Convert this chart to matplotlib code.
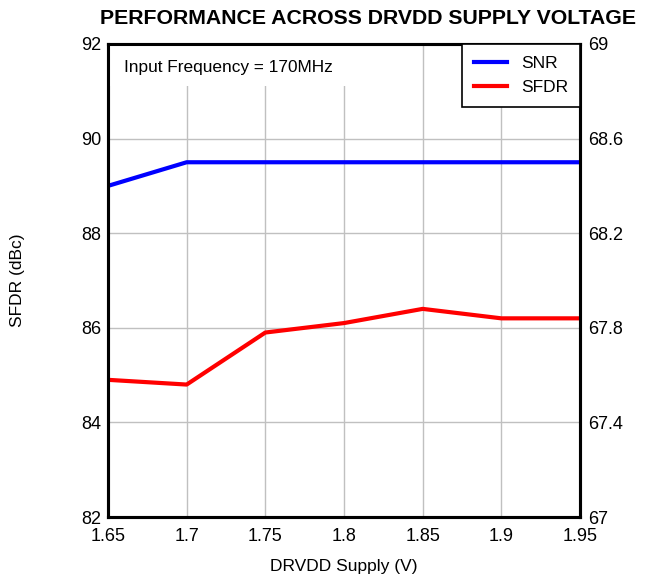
import numpy as np
import matplotlib
matplotlib.use('Agg')
import matplotlib.pyplot as plt
from matplotlib.patches import Rectangle

plt.rcParams['font.family'] = ['Liberation Sans', 'DejaVu Sans']

# DRVDD supply (V)
supply = [1.65, 1.7, 1.75, 1.8, 1.85, 1.9, 1.95]
# SFDR on left axis (dBc)
sfdr = [84.9, 84.8, 85.9, 86.1, 86.4, 86.2, 86.2]
# SNR on right axis
snr = [68.4, 68.5, 68.5, 68.5, 68.5, 68.5, 68.5]

fig = plt.figure(figsize=(6.45, 5.8), dpi=100)
ax = fig.add_axes([108/645, 1-517/580, 472/645, 473/580])
ax2 = ax.twinx()

ax.set_xlim(1.65, 1.95)
ax.set_ylim(82, 92)
ax2.set_ylim(67, 69)
ax.set_xticks(supply)
ax.set_xticklabels(['1.65', '1.7', '1.75', '1.8', '1.85', '1.9', '1.95'])
ax.set_yticks([82, 84, 86, 88, 90, 92])
ax2.set_yticks([67, 67.4, 67.8, 68.2, 68.6, 69])
ax2.set_yticklabels(['67', '67.4', '67.8', '68.2', '68.6', '69'])

ax.grid(True, color='#c0c0c0', linewidth=1)
ax.set_axisbelow(True)
ax.tick_params(axis='y', length=0, labelsize=13, pad=5)
ax.tick_params(axis='x', length=0, labelsize=13, pad=8)
ax2.tick_params(length=0, labelsize=13, pad=6)
for a in (ax, ax2):
    for s in a.spines.values():
        s.set_linewidth(2.2)

l1, = ax.plot(supply, sfdr, color='#ff0000', linewidth=3, label='SFDR')
l2, = ax2.plot(supply, snr, color='#0000ff', linewidth=3, label='SNR')

# white box behind the note hides the gridlines, stays under the spines
ax2.add_patch(Rectangle((0, 0.911), 0.513, 0.089, transform=ax2.transAxes,
                        facecolor='white', edgecolor='none', zorder=1.5))
ax2.text(0.034, 0.951, 'Input Frequency = 170MHz', transform=ax2.transAxes,
         fontsize=12.4, va='center', ha='left', zorder=3)

leg = ax2.legend(handles=[l2, l1], loc='upper right', fontsize=12.5,
                 frameon=True, fancybox=False, borderaxespad=0,
                 handlelength=1.9, handletextpad=0.8, borderpad=0.7,
                 framealpha=1)
leg.get_frame().set_edgecolor('black')
leg.get_frame().set_linewidth(1.2)

ax.set_xlabel('DRVDD Supply (V)', fontsize=12.5, labelpad=10)
ax.set_ylabel('SFDR (dBc)', fontsize=12.5, labelpad=40)

fig.text(368/645, 1-18/580, 'PERFORMANCE ACROSS DRVDD SUPPLY VOLTAGE',
         fontsize=15.3, fontweight='bold', ha='center', va='center')

fig.savefig('out.png', dpi=100)
